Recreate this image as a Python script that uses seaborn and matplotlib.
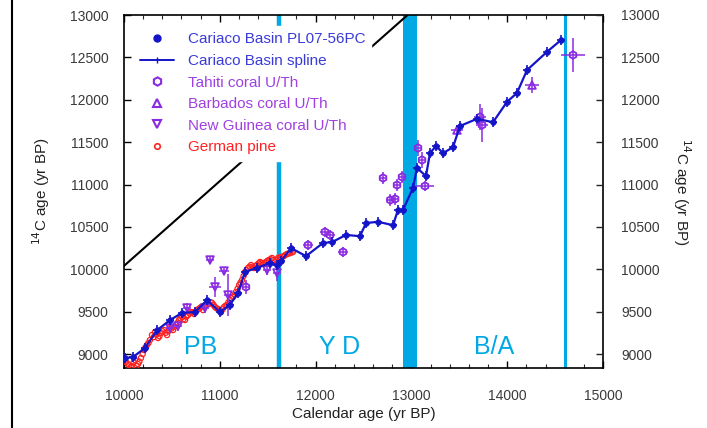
import matplotlib
matplotlib.use("Agg")
import matplotlib.pyplot as plt
from matplotlib.lines import Line2D
import seaborn as sns

# ---------------- data ----------------
cariaco_x = [10010, 10094, 10219, 10344, 10480, 10605, 10741, 10866, 11002, 11106,
             11190, 11263, 11388, 11524, 11597, 11640, 11743, 11900, 12077, 12171,
             12317, 12463, 12526, 12651, 12808, 12860, 12912, 13017, 13058, 13152,
             13194, 13257, 13330, 13434, 13507, 13685, 13852, 13998, 14102, 14207,
             14415, 14562]
cariaco_y = [8950, 8965, 9070, 9280, 9400, 9485, 9495, 9635, 9495, 9580,
             9720, 9970, 10015, 10075, 10050, 10095, 10250, 10155, 10310, 10320,
             10405, 10390, 10545, 10560, 10520, 10700, 10700, 10960, 11195, 11100,
             11370, 11455, 11370, 11440, 11690, 11775, 11735, 11975, 12080, 12350,
             12565, 12705]
cariaco_xerr = [45] * len(cariaco_x)
cariaco_yerr = [60] * len(cariaco_x)

tahiti_x = [11273, 11921, 12098, 12150, 12286, 12704, 12850, 12902, 12780, 12830,
            13069, 13111, 13142, 13716, 13737, 14687]
tahiti_y = [9791, 10286, 10440, 10404, 10204, 11077, 10994, 11089, 10817, 10830,
            11431, 11289, 10982, 11796, 11702, 12528]
tahiti_xerr = [40, 50, 50, 50, 50, 40, 40, 40, 40, 40, 40, 40, 90, 60, 60, 130]
tahiti_yerr = [80, 60, 60, 60, 60, 70, 70, 70, 70, 70, 90, 90, 60, 150, 200, 200]

barbados_x = [13476, 14259]
barbados_y = [11643, 12174]
barbados_xerr = [60, 70]
barbados_yerr = [60, 90]

newguinea_x = [10480, 10564, 10658, 10845, 10898, 11044, 10950, 11086, 11493, 11597]
newguinea_y = [9307, 9330, 9543, 9543, 10109, 9979, 9791, 9696, 9991, 9956]
newguinea_xerr = [40, 40, 40, 40, 40, 50, 60, 40, 40, 40]
newguinea_yerr = [60, 60, 60, 60, 50, 50, 120, 250, 60, 100]

pine_x = [10021, 10040, 10052, 10070, 10084, 10100, 10115, 10130, 10146, 10160,
          10177, 10195, 10209, 10225, 10240, 10255, 10271, 10292, 10310, 10324,
          10340, 10355, 10370, 10386, 10400, 10418, 10435, 10449, 10465, 10480,
          10495, 10512, 10528, 10543, 10560, 10574, 10590, 10606, 10620, 10637,
          10650, 10668, 10685, 10699, 10715, 10731, 10745, 10762, 10778, 10793,
          10810, 10825, 10840, 10856, 10870, 10887, 10905, 10919, 10935, 10950,
          10965, 10981, 11000, 11013, 11030, 11044, 11060, 11075, 11090, 11107,
          11120, 11138, 11155, 11169, 11185, 11201, 11215, 11232, 11248, 11263,
          11280, 11295, 11310, 11326, 11340, 11357, 11372, 11389, 11405, 11420,
          11435, 11451, 11468, 11482, 11498, 11514, 11530, 11545, 11560, 11576,
          11590, 11608, 11625, 11639, 11655, 11670, 11685, 11702, 11718, 11733,
          11750, 11764]
pine_y = [8906, 8880, 8870, 8850, 8858, 8900, 8929, 8860, 8882, 8910,
          8953, 9000, 9047, 9080, 9106, 9130, 9165, 9224, 9200, 9260,
          9230, 9189, 9210, 9248, 9270, 9283, 9250, 9224, 9270, 9307,
          9300, 9283, 9320, 9342, 9370, 9401, 9420, 9437, 9410, 9401,
          9440, 9460, 9480, 9496, 9490, 9472, 9500, 9519, 9530, 9543,
          9560, 9519, 9560, 9578, 9600, 9590, 9610, 9602, 9580, 9555,
          9540, 9531, 9510, 9496, 9530, 9555, 9570, 9578, 9610, 9637,
          9660, 9673, 9700, 9732, 9770, 9814, 9840, 9873, 9920, 9968,
          9990, 10015, 10030, 10050, 10030, 10015, 10040, 10050, 10070, 10086,
          10075, 10062, 10075, 10086, 10100, 10109, 10120, 10133, 10110, 10086,
          10110, 10133, 10140, 10133, 10150, 10156, 10170, 10180, 10185, 10192,
          10198, 10204]

oneone_x = [10000, 12960]
oneone_y = [10040, 13000]

boundaries = [11618, 14603]
yd_band = [12912, 13058]

period_labels = ["PB", "Y D", "B/A"]
period_x = [10804, 12255, 13862]
period_y = [9077, 9077, 9077]

xticks = [10000, 11000, 12000, 13000, 14000, 15000]
yticks = [9000, 9500, 10000, 10500, 11000, 11500, 12000, 12500, 13000]

# ---------------- styling ----------------
sns.set_theme(style="ticks")
plt.rcParams['font.family'] = ['Liberation Sans', 'DejaVu Sans']

BLUE = "#1414c8"
BLUE_TXT = "#3a3ad8"
PURPLE = "#8a2be2"
PURPLE_TXT = "#a040e0"
RED = "#ff2222"
CYAN = "#00a8e4"
TICKTXT = "#3a3a3a"

fig = plt.figure(figsize=(7.07, 4.28), dpi=100)
ax = fig.add_axes([124/707, 1 - 368/428, (603 - 124)/707, (368 - 15)/428])

ax.set_xlim(10000, 15000)
ax.set_ylim(8835, 13000)

# period boundaries
ax.axvline(boundaries[0], color=CYAN, lw=3.2, zorder=1)
ax.axvline(boundaries[1], color=CYAN, lw=2.2, zorder=1)
ax.axvspan(yd_band[0], yd_band[1], color=CYAN, lw=0, zorder=1)

# 1:1 line
sns.lineplot(x=oneone_x, y=oneone_y, ax=ax, color="black", lw=1.5, zorder=2)

# German pine
sns.scatterplot(x=pine_x, y=pine_y, ax=ax, marker="o", s=14, facecolors="none",
                edgecolor=RED, linewidth=0.9, zorder=3)

# corals
for xs, ys, xe, ye in [(tahiti_x, tahiti_y, tahiti_xerr, tahiti_yerr),
                       (barbados_x, barbados_y, barbados_xerr, barbados_yerr),
                       (newguinea_x, newguinea_y, newguinea_xerr, newguinea_yerr)]:
    ax.errorbar(xs, ys, xerr=xe, yerr=ye, fmt="none", ecolor=PURPLE,
                elinewidth=1.1, zorder=4)
sns.scatterplot(x=tahiti_x, y=tahiti_y, ax=ax, marker="h", s=30, facecolors="none",
                edgecolor=PURPLE, linewidth=1.3, zorder=5)
sns.scatterplot(x=barbados_x, y=barbados_y, ax=ax, marker="^", s=30, facecolors="none",
                edgecolor=PURPLE, linewidth=1.3, zorder=5)
sns.scatterplot(x=newguinea_x, y=newguinea_y, ax=ax, marker="v", s=30, facecolors="none",
                edgecolor=PURPLE, linewidth=1.3, zorder=5)

# Cariaco
ax.errorbar(cariaco_x, cariaco_y, xerr=cariaco_xerr, yerr=cariaco_yerr, fmt="none",
            ecolor=BLUE, elinewidth=1.2, zorder=6)
sns.lineplot(x=cariaco_x, y=cariaco_y, ax=ax, color=BLUE, lw=1.6, sort=False, zorder=6)
sns.scatterplot(x=cariaco_x, y=cariaco_y, ax=ax, marker="o", s=18, color=BLUE,
                edgecolor=BLUE, zorder=7)

# period labels
for t, x, y in zip(period_labels, period_x, period_y):
    ax.text(x, y, t, color=CYAN, fontsize=18, ha="center", va="center", zorder=8)

# axes ticks
ax.set_xticks(xticks)
ax.set_xticks(range(10000, 15001, 200), minor=True)
ax.set_yticks(yticks)
ax.set_yticklabels([str(v) for v in yticks])
ax.set_xticklabels([str(v) for v in xticks])
ax.tick_params(axis="both", which="major", direction="in", length=5, width=1.0,
               labelsize=10, colors="black", labelcolor=TICKTXT, top=True)
ax.tick_params(axis="x", which="minor", direction="in", length=3, width=0.8, top=True)
ax.tick_params(axis="x", pad=15)
ax.tick_params(axis="y", pad=11)
for sp in ax.spines.values():
    sp.set_visible(True)
    sp.set_linewidth(1.2)
    sp.set_color("black")

ax.set_xlabel("Calendar age (yr BP)", fontsize=11, color="#222222", labelpad=3)
ax.set_ylabel("$^{14}$C age (yr BP)", fontsize=11, color="#222222", labelpad=13)

ax2 = ax.twinx()
ax2.set_ylim(ax.get_ylim())
ax2.set_yticks(yticks)
ax2.set_yticklabels([str(v) for v in yticks])
ax2.tick_params(axis="y", direction="in", length=5, width=1.0, labelsize=10,
                labelcolor=TICKTXT, pad=13)
ax2.set_ylabel("$^{14}$C age (yr BP)", fontsize=11, color="#222222",
               rotation=270, labelpad=24)
for sp in ax2.spines.values():
    sp.set_visible(False)

# legend
handles = [
    Line2D([], [], color=BLUE, marker="o", ls="none", ms=5),
    Line2D([], [], color=BLUE, marker="|", ls="-", lw=1.4, ms=5),
    Line2D([], [], color=PURPLE, marker="h", ls="none", ms=6, mfc="none", mew=1.5),
    Line2D([], [], color=PURPLE, marker="^", ls="none", ms=6, mfc="none", mew=1.5),
    Line2D([], [], color=PURPLE, marker="v", ls="none", ms=6, mfc="none", mew=1.5),
    Line2D([], [], color=RED, marker="o", ls="none", ms=4, mfc="none", mew=1.2),
]
labels = ["Cariaco Basin PL07-56PC", "Cariaco Basin spline", "Tahiti coral U/Th",
          "Barbados coral U/Th", "New Guinea coral U/Th", "German pine"]
leg = ax.legend(handles, labels, loc="upper left", bbox_to_anchor=(0.005, 0.99),
                frameon=True, fontsize=11, handlelength=2.2, handletextpad=0.9,
                labelspacing=0.5, borderpad=0.4,
                labelcolor=[BLUE_TXT, BLUE_TXT, PURPLE_TXT, PURPLE_TXT, PURPLE_TXT, RED])
leg.get_frame().set_facecolor("white")
leg.get_frame().set_edgecolor("white")
leg.get_frame().set_alpha(1.0)
leg.get_frame().set_boxstyle("square", pad=0)
leg.set_zorder(20)

# left border line of image
fig.add_artist(Line2D([12/707, 12/707], [0, 1], color="black", lw=1.5))

fig.savefig("out.png", dpi=100)
